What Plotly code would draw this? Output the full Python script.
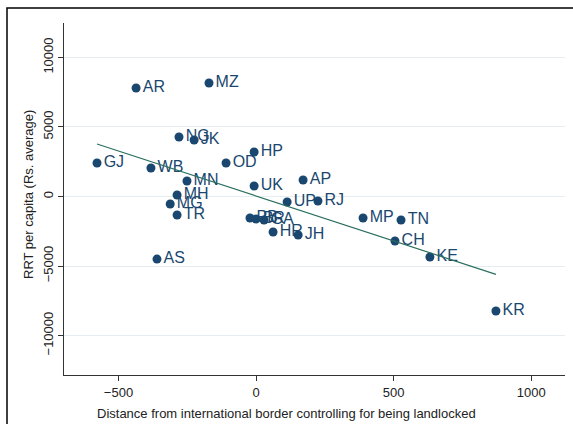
import numpy as np
import plotly.graph_objects as go

states = ["AR", "MZ", "NG", "JK", "HP", "GJ", "OD", "WB", "MN", "UK", "AP", "MH", "MG",
          "UP", "RJ", "TR", "AS", "PB", "BR", "GA", "HR", "JH", "MP", "TN", "CH", "KE", "KR"]
distance = [-436, -171, -280, -225, -7, -578, -109, -382, -251, -7, 171, -287, -312,
            113, 225, -287, -360, -22, 0, 29, 62, 153, 389, 527, 505, 632, 872]
rrt = [7806, 8165, 4280, 4065, 3200, 2410, 2410, 2050, 1115, 755, 1187, 108, -540,
       -396, -324, -1330, -4500, -1547, -1619, -1690, -2554, -2770, -1547, -1690, -3201, -4352, -8237]

x_ticks = [-500, 0, 500, 1000]
y_ticks = [-10000, -5000, 0, 5000, 10000]
x_title = "Distance from international border controlling for being landlocked"
y_title = "RRT per capita (Rs. average)"

navy = "#1a476f"
fitc = "#2a6f5f"

slope, intercept = np.polyfit(distance, rrt, 1)
fx = np.array([min(distance), max(distance)])
fy = slope * fx + intercept

fig = go.Figure()
fig.add_trace(go.Scatter(
    x=distance, y=rrt, mode="markers+text", text=states,
    textposition="middle right",
    textfont=dict(family="Liberation Sans, Arial", size=16, color=navy),
    marker=dict(color=navy, size=9, line=dict(width=0)),
    cliponaxis=False, showlegend=False))
fig.add_trace(go.Scatter(
    x=fx, y=fy, mode="lines", line=dict(color=fitc, width=1.2), showlegend=False))

W, H = 573, 424
l, r, t, b = 64, 8, 23, 49
pw, ph = W - l - r, H - t - b

def px(xp):
    return (xp - l) / pw

def py(yp):
    return (H - b - yp) / ph

fig.update_layout(
    width=W, height=H,
    margin=dict(l=l, r=r, t=t, b=b, autoexpand=False),
    paper_bgcolor="white", plot_bgcolor="white",
    font=dict(family="Liberation Sans, Arial", size=13, color="#222"),
    xaxis=dict(range=[-698, 1123], tickvals=x_ticks, ticktext=["\u2212500", "0", "500", "1000"],
               automargin=False,
               showgrid=False, zeroline=False, showline=True, linecolor="#333", linewidth=1,
               ticks="outside", ticklen=5, tickcolor="#333",
               tickfont=dict(size=13, color="#222")),
    yaxis=dict(range=[-12840, 12480], tickvals=y_ticks,
               ticktext=["\u221210000", "\u22125000", "0", "5000", "10000"],
               tickangle=-90, automargin=False,
               showgrid=True, gridcolor="#e4eef0", gridwidth=1,
               zeroline=False, showline=True, linecolor="#333", linewidth=1,
               ticks="outside", ticklen=5, tickcolor="#333",
               tickfont=dict(size=13, color="#222")),
    annotations=[
        dict(text=x_title, xref="paper", yref="paper", x=px(286), y=py(413),
             xanchor="center", yanchor="middle", showarrow=False,
             font=dict(size=13, color="#222")),
        dict(text=y_title, xref="paper", yref="paper", x=px(28), y=py(195),
             xanchor="center", yanchor="middle", showarrow=False, textangle=-90,
             font=dict(size=13, color="#222")),
    ],
    shapes=[
        dict(type="rect", xref="paper", yref="paper", x0=px(7), x1=px(W + 20), y0=py(H + 20), y1=py(8),
             line=dict(color="black", width=1.5), fillcolor="rgba(0,0,0,0)", layer="above"),
    ],
)

fig.write_html("out.html", config={"displayModeBar": False},
               post_script="document.body.style.margin='0';document.body.style.overflow='hidden';")
